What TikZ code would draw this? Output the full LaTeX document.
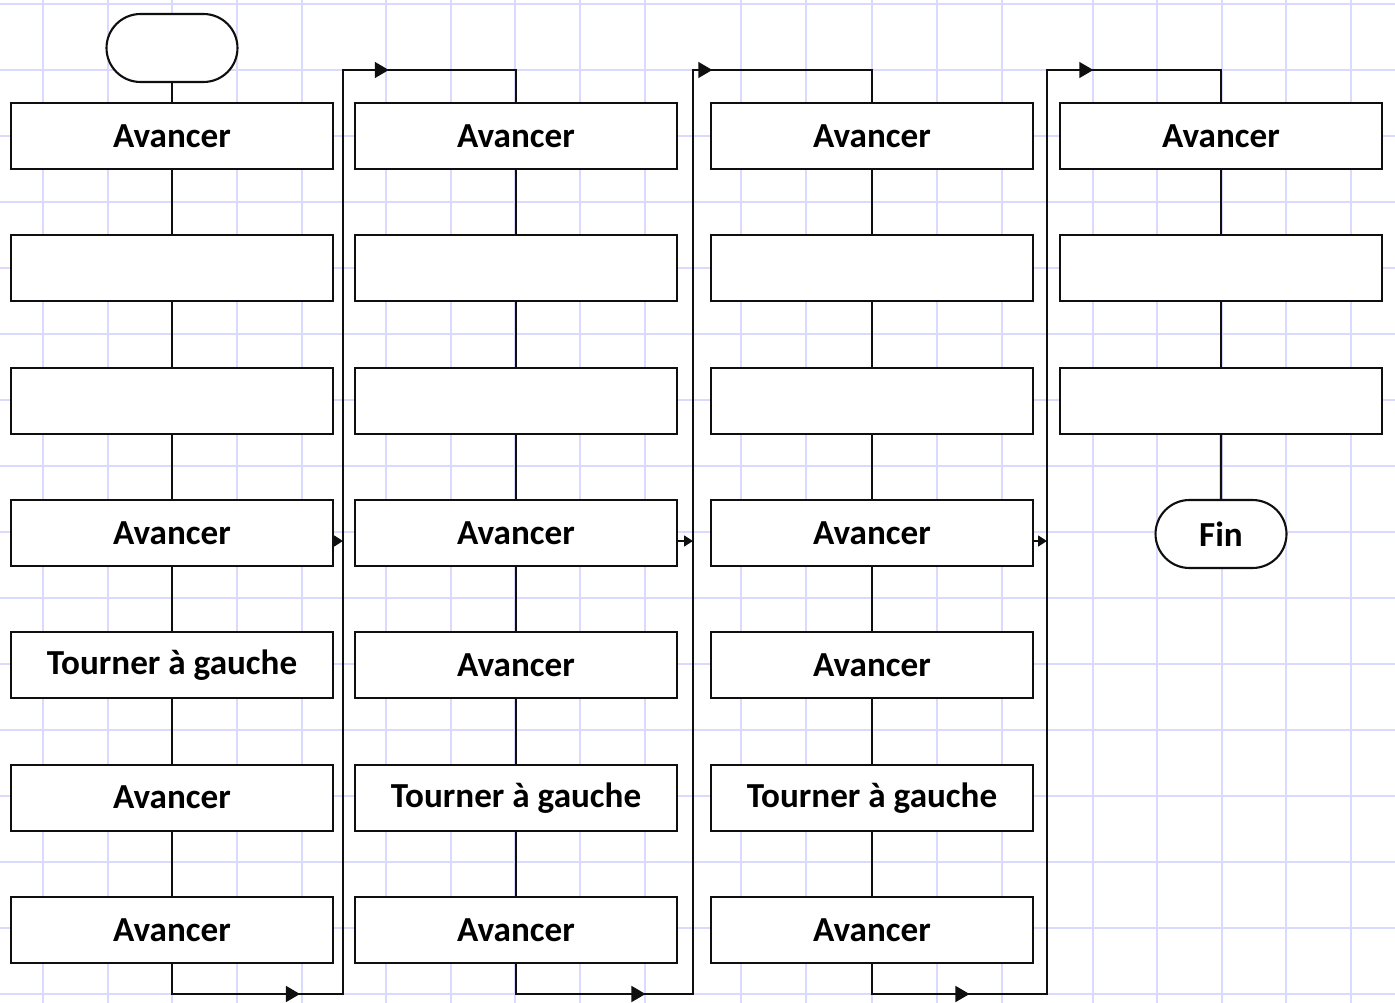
\documentclass[tikz,border=0pt]{standalone}
\usepackage{fontspec}
\setmainfont{Carlito}
\usetikzlibrary{shapes.misc,arrows.meta,positioning,decorations.markings}
\definecolor{gridlavender}{RGB}{218,218,255}
\definecolor{inkblack}{RGB}{15,15,15}

\tikzset{
  gridline/.style={gridlavender, line width=0.8pt},
  stepbox/.style={draw=inkblack, fill=white, line width=1.2pt, minimum width=6.44cm,
    minimum height=1.32cm, inner sep=0pt, font=\bfseries\fontsize{20}{24}\selectfont},
  terminal/.style={draw=inkblack, fill=white, rounded rectangle, line width=1.2pt,
    minimum width=2.62cm, minimum height=1.36cm, inner sep=0pt,
    font=\bfseries\fontsize{20}{24}\selectfont},
  link/.style={draw=inkblack, line width=1.2pt},
  loopline/.style 2 args={link, postaction={decorate}, decoration={markings,
    mark=at position #1 with {\arrow{Triangle[length=8pt,width=9pt]}},
    mark=at position #2 with {\arrow{Triangle[length=8pt,width=9pt]}}}}
}

\begin{document}
\begin{tikzpicture}[x=0.02cm, y=-0.02cm, node distance=1.285cm]
    % squared paper
    \useasboundingbox[fill=white] (0,0) rectangle (1395,1003);
    \foreach \gx in {43,108,172,237,302,386,451,515,580,645,741,806,872,937,1002,1093,1157,1222,1286,1351}
        \draw[gridline] (\gx,0) -- (\gx,1003);
    \foreach \gy in {4,70,...,994}
        \draw[gridline] (0,\gy) -- (1395,\gy);

    % Column 1
    \node[terminal] (start) at (172,48) {};
    \node[stepbox] (c1r1) at (172,136) {Avancer};
    \node[stepbox, below=of c1r1] (c1r2) {};
    \node[stepbox, below=of c1r2] (c1r3) {};
    \node[stepbox, below=of c1r3] (c1r4) {Avancer};
    \node[stepbox, below=of c1r4] (c1r5) {Tourner à gauche};
    \node[stepbox, below=of c1r5] (c1r6) {Avancer};
    \node[stepbox, below=of c1r6] (c1r7) {Avancer};

    % Column 2
    \node[stepbox] (c2r1) at (516,136) {Avancer};
    \node[stepbox, below=of c2r1] (c2r2) {};
    \node[stepbox, below=of c2r2] (c2r3) {};
    \node[stepbox, below=of c2r3] (c2r4) {Avancer};
    \node[stepbox, below=of c2r4] (c2r5) {Avancer};
    \node[stepbox, below=of c2r5] (c2r6) {Tourner à gauche};
    \node[stepbox, below=of c2r6] (c2r7) {Avancer};

    % Column 3
    \node[stepbox] (c3r1) at (872,136) {Avancer};
    \node[stepbox, below=of c3r1] (c3r2) {};
    \node[stepbox, below=of c3r2] (c3r3) {};
    \node[stepbox, below=of c3r3] (c3r4) {Avancer};
    \node[stepbox, below=of c3r4] (c3r5) {Avancer};
    \node[stepbox, below=of c3r5] (c3r6) {Tourner à gauche};
    \node[stepbox, below=of c3r6] (c3r7) {Avancer};

    % Column 4
    \node[stepbox] (c4r1) at (1221,136) {Avancer};
    \node[stepbox, below=of c4r1] (c4r2) {};
    \node[stepbox, below=of c4r2] (c4r3) {};
    \node[terminal, below=of c4r3] (fin) {Fin};

    % vertical links
    \draw[link] (start) -- (c1r1);
    \foreach \c in {1,2,3}
        \foreach \r [count=\n from 2] in {1,...,6}
            \draw[link] (c\c r\r) -- (c\c r\n);
    \draw[link] (c4r1) -- (c4r2);
    \draw[link] (c4r2) -- (c4r3);
    \draw[link] (c4r3) -- (fin);

    % loops to the next column
    \coordinate (v1b) at (343,994);  \coordinate (v1t) at (343,70);
    \coordinate (v2b) at (693,994);  \coordinate (v2t) at (693,70);
    \coordinate (v3b) at (1047,994); \coordinate (v3t) at (1047,70);
    \draw[loopline={3.16cm}{23.42cm}] (c1r7.south) |- (v1b) -- (v1t) -| (c2r1.north);
    \draw[loopline={3.19cm}{23.01cm}] (c2r7.south) |- (v2b) -- (v2t) -| (c3r1.north);
    \draw[loopline={2.55cm}{23.51cm}] (c3r7.south) |- (v3b) -- (v3t) -| (c4r1.north);

    % small joins on the fourth row
    \coordinate (j1) at (343,541);
    \coordinate (j2) at (693,541);
    \coordinate (j3) at (1047,541);
    \draw[link, -{Triangle[length=5pt,width=6pt]}] (c1r4.east |- j1) -- (j1);
    \draw[link, -{Triangle[length=5pt,width=6pt]}] (c2r4.east |- j2) -- (j2);
    \draw[link, -{Triangle[length=5pt,width=6pt]}] (c3r4.east |- j3) -- (j3);
\end{tikzpicture}
\end{document}
